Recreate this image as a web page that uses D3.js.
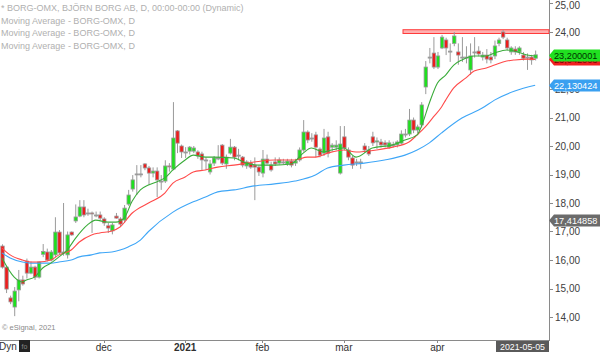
<!DOCTYPE html>
<html>
<head>
<meta charset="utf-8">
<script src="https://cdn.jsdelivr.net/npm/d3@7"></script>
<style>
  html, body { margin: 0; padding: 0; background: #fff; }
  svg { display: block; font-family: Arial, "Liberation Sans", sans-serif; }
</style>
</head>
<body>
<div id="chart"></div>
<script>
// Daily candles, BORG-OMX, late Oct 2020 .. early May 2021 (bar index = trading day).
const opens = [16.49,15.75,14.67,14.35,14.95,15.30,15.96,15.54,15.75,15.40,16.20,16.28,16.00,16.18,16.98,16.25,16.18,16.98,17.37,17.54,
  17.86,17.65,17.65,17.58,17.58,17.44,17.20,17.02,17.54,17.44,17.40,17.96,18.49,19.02,19.02,19.37,19.23,19.05,19.12,18.77,
  18.77,19.30,19.19,20.53,20.00,19.79,19.82,19.82,19.79,19.72,19.51,19.09,19.40,19.58,20.03,19.37,19.75,19.96,19.68,19.61,
  19.30,19.40,19.33,19.26,19.05,19.54,19.33,19.44,19.40,19.44,19.37,19.47,19.40,19.51,19.86,20.49,20.28,20.39,19.89,19.75,
  20.32,19.96,19.96,19.05,20.32,19.86,19.58,19.44,19.44,20.00,19.86,20.32,20.14,20.14,20.11,19.96,20.04,20.04,20.10,20.42,
  20.42,20.91,20.56,20.74,22.07,23.12,23.26,22.77,23.44,23.72,23.33,23.60,23.30,23.12,23.12,22.67,23.30,23.33,23.12,23.19,
  23.12,23.16,23.60,24.00,23.72,23.30,23.40,23.30,23.19,23.12,23.12,23.08];
const highs = [16.55,15.80,14.75,15.05,15.65,15.45,16.05,15.95,15.80,15.95,16.56,16.40,16.35,17.50,17.05,18.00,17.00,17.00,17.95,18.10,
  18.10,17.80,17.70,17.70,17.70,17.50,17.30,17.30,17.65,17.50,17.93,18.46,18.98,19.33,19.33,19.40,19.30,19.25,19.25,18.98,
  19.50,19.40,21.54,20.56,20.05,19.96,20.00,20.00,19.85,19.80,19.60,19.51,19.65,20.03,20.07,19.70,20.25,20.00,19.90,19.65,
  19.50,19.50,19.60,19.30,19.86,19.70,19.45,19.60,19.60,19.55,19.55,19.55,19.55,19.95,20.91,20.55,20.45,20.50,19.95,20.60,
  20.50,20.10,20.20,20.70,20.70,19.95,19.65,19.55,19.55,20.10,20.00,20.50,20.30,20.25,20.20,20.20,20.15,20.20,20.55,20.60,
  21.30,21.00,20.75,21.54,22.98,23.44,23.82,23.30,23.90,23.80,23.60,24.00,23.60,23.82,23.50,23.60,23.82,23.50,23.30,23.40,
  23.30,23.70,23.80,24.07,23.80,23.50,23.50,23.50,23.30,23.25,23.20,23.35];
const lows = [15.70,14.84,14.45,14.03,14.55,15.10,15.35,15.50,15.30,15.35,16.10,15.95,15.95,16.10,16.20,16.15,16.05,16.85,17.30,17.50,
  17.50,17.55,16.95,17.50,17.40,17.20,16.95,16.90,17.45,17.16,17.30,17.90,18.40,18.28,18.90,19.15,18.63,18.90,18.21,18.46,
  18.70,19.10,19.15,19.75,19.58,19.58,19.70,19.75,19.55,19.16,19.16,19.00,19.30,19.50,19.33,19.20,19.70,19.50,19.50,19.25,
  19.20,19.20,18.10,18.95,18.90,19.35,19.10,19.30,19.35,19.35,19.30,19.25,19.30,19.45,19.80,20.10,20.15,19.60,19.60,19.65,
  19.60,19.80,19.85,19.00,19.85,19.50,19.20,19.30,19.20,19.75,19.65,20.00,19.90,19.95,19.95,19.90,19.95,19.95,20.05,20.30,
  20.35,20.45,20.45,20.65,21.82,22.90,22.70,22.70,23.40,23.19,22.95,23.50,22.85,22.95,22.90,22.50,23.10,23.15,23.00,22.90,
  22.90,23.05,23.50,23.75,23.35,23.20,23.20,23.20,23.00,22.67,22.85,23.00];
const closes = [15.75,14.98,14.53,14.91,15.30,15.16,15.54,15.75,15.40,15.93,16.30,16.00,16.28,16.98,16.25,16.28,16.88,16.88,17.51,17.86,
  17.58,17.65,17.63,17.58,17.47,17.30,17.12,17.23,17.47,17.26,17.82,18.28,18.81,19.02,19.02,19.23,19.05,19.12,18.81,18.77,
  19.30,19.28,20.28,20.10,19.79,19.79,19.96,19.93,19.65,19.51,19.51,19.37,19.58,19.58,19.40,19.61,19.96,19.61,19.68,19.33,
  19.44,19.26,19.26,19.09,19.54,19.40,19.16,19.37,19.51,19.44,19.47,19.33,19.47,19.86,20.49,20.21,20.28,19.96,19.68,20.28,
  19.75,20.03,20.03,20.07,19.93,19.61,19.33,19.44,19.44,19.86,19.72,20.11,20.18,20.04,20.04,20.11,20.04,20.14,20.42,20.42,
  20.91,20.56,20.67,21.44,22.77,23.12,22.77,23.16,23.82,23.44,23.33,23.86,23.19,23.12,23.12,23.16,23.30,23.23,23.19,23.05,
  23.02,23.51,23.72,23.82,23.44,23.44,23.30,23.44,23.08,23.12,23.02,23.20];

// Moving averages: [bar index, value]
const maFast = [[0,16.07],[3,15.40],[5,15.23],[6,15.30],[8,15.40],[10,15.72],[12,15.89],[14,16.11],[16,16.35],[18,16.75],
  [21,17.23],[23,17.40],[26,17.33],[28,17.33],[30,17.47],[32,18.07],[34,18.46],[36,18.63],[38,18.74],[40,18.88],[42,19.16],
  [45,19.51],[47,19.68],[50,19.61],[52,19.61],[57,19.58],[60,19.40],[63,19.33],[67,19.33],[71,19.37],[74,19.75],[76,19.93],
  [79,19.79],[81,19.86],[84,19.93],[87,19.61],[91,19.93],[96,20.04],[99,20.21],[102,20.39],[103,20.67],[105,21.51],[107,22.21],
  [109,22.49],[111,22.84],[113,23.02],[116,23.16],[119,23.16],[121,23.26],[124,23.37],[126,23.33],[129,23.19],[131,23.16]];
const maMid = [[0,16.42],[2,16.18],[5,16.00],[7,15.93],[9,15.93],[12,16.00],[14,16.18],[17,16.35],[19,16.63],[22,16.88],
  [24,16.95],[27,17.02],[29,17.16],[32,17.65],[36,18.00],[40,18.35],[42,18.70],[45,18.91],[47,19.09],[50,19.16],[53,19.26],
  [57,19.33],[62,19.44],[67,19.51],[72,19.51],[75,19.61],[77,19.61],[80,19.75],[84,19.86],[87,19.79],[92,19.86],[96,19.96],
  [100,20.14],[102,20.39],[104,20.67],[106,21.02],[108,21.37],[109,21.61],[111,22.04],[114,22.39],[116,22.63],[119,22.74],
  [121,22.84],[124,22.98],[126,23.02],[129,23.05],[131,23.04]];
const maSlow = [[0,16.25],[2,16.07],[5,15.93],[7,15.89],[9,15.89],[12,15.89],[14,15.93],[17,16.00],[19,16.11],[22,16.18],
  [24,16.25],[27,16.28],[29,16.35],[31,16.46],[34,16.70],[36,17.00],[42,17.68],[47,18.04],[50,18.21],[53,18.39],[57,18.46],
  [62,18.60],[67,18.67],[72,18.77],[77,18.98],[80,19.23],[84,19.33],[89,19.40],[94,19.51],[99,19.68],[102,19.86],[105,20.11],
  [108,20.46],[113,20.98],[118,21.33],[121,21.61],[126,21.93],[131,22.13]];

const yTicks = [14, 15, 16, 17, 18, 19, 20, 21, 22, 23, 24, 25];
const xTickIdx = [25, 45, 64, 84, 107, 127];
const xTickLabels = ['dec', '2021', 'feb', 'mar', 'apr', ''];
const lastDate = '2021-05-05';
const resistance = [24.0, 24.08];
const priceTags = [
  {value: 17.414858, text: '17,414858', fill: '#6b6b6b', color: '#fff'},
  {value: 22.130424, text: '22,130424', fill: '#3aa0f0', color: '#fff'},
  {value: 23.042003, text: '23,042003', fill: '#f02020', color: '#700'},
  {value: 23.200001, text: '23,200001', fill: '#20e020', color: '#030'}
];
const legendLines = [
  '* BORG-OMX, BJÖRN BORG AB, D, 00:00-00:00 (Dynamic)',
  'Moving Average - BORG-OMX, D',
  'Moving Average - BORG-OMX, D',
  'Moving Average - BORG-OMX, D'
];

const W = 600, H = 352;
const plotRight = 549, plotBottom = 340;

const svg = d3.select('#chart').append('svg')
  .attr('width', W).attr('height', H);

const x = d3.scaleLinear().domain([0, opens.length - 1]).range([2, 2 + (opens.length - 1) * 4.07]);
const y = d3.scaleLinear().domain([14, 24]).range([317, 32]);

// Plot frame
svg.append('line').attr('x1', plotRight + 0.5).attr('x2', plotRight + 0.5).attr('y1', 0).attr('y2', plotBottom + 1)
  .attr('stroke', '#8a8a8a');
svg.append('line').attr('x1', 0).attr('x2', plotRight + 1).attr('y1', plotBottom + 0.5).attr('y2', plotBottom + 0.5)
  .attr('stroke', '#8a8a8a');

// Legend text
svg.append('g').selectAll('text').data(legendLines).enter().append('text')
  .attr('x', 1).attr('y', (d, i) => 11 + i * 12.6)
  .attr('font-size', '9px').attr('fill', '#b0b0b0')
  .text(d => d);

// Resistance band
svg.append('rect')
  .attr('x', 403).attr('width', plotRight - 403)
  .attr('y', y(resistance[1])).attr('height', y(resistance[0]) - y(resistance[1]) + 1.5)
  .attr('fill', '#ffb0b0').attr('stroke', '#ff3b3b').attr('stroke-width', 1);

// Candles
const idx = d3.range(opens.length);
const bw = 3.4;
const candles = svg.append('g');
candles.selectAll('line').data(idx).enter().append('line')
  .attr('x1', i => x(i) + 0.5).attr('x2', i => x(i) + 0.5)
  .attr('y1', i => y(highs[i])).attr('y2', i => y(lows[i]))
  .attr('stroke', '#9a9a9a').attr('stroke-width', 1);
candles.selectAll('rect').data(idx).enter().append('rect')
  .attr('x', i => x(i) - bw / 2 + 0.5)
  .attr('width', bw)
  .attr('y', i => y(Math.max(opens[i], closes[i])))
  .attr('height', i => Math.max(1, Math.abs(y(opens[i]) - y(closes[i]))))
  .attr('fill', i => closes[i] > opens[i] ? '#1ee01e' : (closes[i] < opens[i] ? '#ee1c1c' : '#9a9a9a'))
  .attr('stroke', '#9a9a9a').attr('stroke-width', 0.8);

// Moving averages
const line = d3.line().x(d => x(d[0])).y(d => y(d[1])).curve(d3.curveMonotoneX);
[[maSlow, '#3ea6f7'], [maMid, '#ff4a4a'], [maFast, '#3aac3a']].forEach(([data, color]) => {
  svg.append('path').datum(data).attr('d', line)
    .attr('fill', 'none').attr('stroke', color).attr('stroke-width', 1.1);
});

// Y axis
const yAxis = svg.append('g').attr('font-size', '10px').attr('fill', '#404040');
yAxis.selectAll('line').data(yTicks).enter().append('line')
  .attr('x1', plotRight).attr('x2', plotRight + 4)
  .attr('y1', d => Math.round(y(d)) + 0.5).attr('y2', d => Math.round(y(d)) + 0.5)
  .attr('stroke', '#8a8a8a');
yAxis.selectAll('text').data(yTicks).enter().append('text')
  .attr('x', plotRight + 6).attr('y', d => Math.max(y(d) + 3.5, 9))
  .text(d => d3.format('.2f')(d).replace('.', ','));

// X axis
const xAxis = svg.append('g').attr('font-size', '10px').attr('fill', '#303030');
xAxis.selectAll('line').data(xTickIdx).enter().append('line')
  .attr('x1', i => Math.round(x(i)) + 0.5).attr('x2', i => Math.round(x(i)) + 0.5)
  .attr('y1', plotBottom).attr('y2', plotBottom + 3)
  .attr('stroke', '#8a8a8a');
xAxis.selectAll('text').data(xTickIdx).enter().append('text')
  .attr('x', i => x(i)).attr('y', 351)
  .attr('text-anchor', 'middle')
  .attr('font-weight', (d, k) => xTickLabels[k] === '2021' ? 'bold' : 'normal')
  .text((d, k) => xTickLabels[k]);

// Last date box
svg.append('rect').attr('x', 496).attr('y', 341).attr('width', 53).attr('height', 11).attr('fill', '#5a5a5a');
svg.append('text').attr('x', 522.5).attr('y', 350).attr('text-anchor', 'middle')
  .attr('font-size', '8.8px').attr('fill', '#fff').text(lastDate);

// "Dyn" and lock icon
svg.append('text').attr('x', -1).attr('y', 350).attr('font-size', '10px').attr('fill', '#333').text('Dyn');
svg.append('rect').attr('x', 19).attr('y', 340).attr('width', 11).attr('height', 12).attr('fill', '#222');
svg.append('text').attr('x', 24.5).attr('y', 349).attr('text-anchor', 'middle')
  .attr('font-size', '7px').attr('fill', '#888').text('fo');

// Copyright
svg.append('text').attr('x', 2).attr('y', 330).attr('font-size', '7.5px').attr('fill', '#8a8a8a').text('© eSignal, 2021');

// Price tags on the right scale
const tags = svg.append('g');
priceTags.forEach(t => {
  const cy = Math.round(y(t.value)) + 0.5;
  tags.append('path')
    .attr('d', `M${plotRight},${cy} L${plotRight + 5},${cy - 6} L${W},${cy - 6} L${W},${cy + 6} L${plotRight + 5},${cy + 6} Z`)
    .attr('fill', t.fill);
  tags.append('text').attr('x', plotRight + 5).attr('y', cy + 3.5)
    .attr('font-size', '9.2px').attr('fill', t.color).text(t.text);
});
</script>
</body>
</html>
